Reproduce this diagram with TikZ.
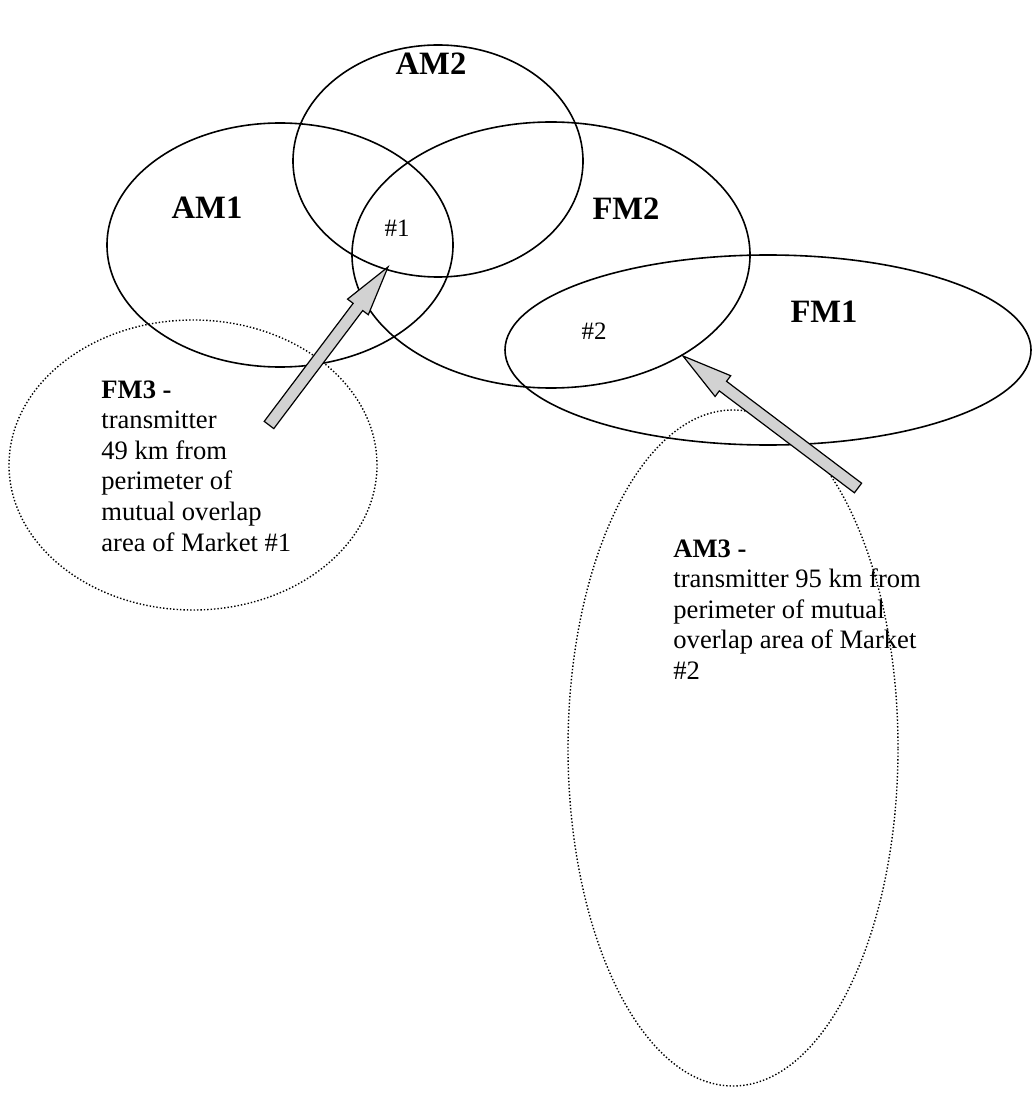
\documentclass[tikz,border=0pt]{standalone}
\usepackage{fontspec}
\setmainfont{Liberation Serif}
\usetikzlibrary{shapes.geometric,calc}

% fat block arrow from tail #1 to tip #2
\newcommand{\fatarrow}[2]{%
  \coordinate (hb) at ($(#2)!25pt!(#1)$);
  \filldraw[fatarrow] ($(#1)!3pt!90:(#2)$) -- ($(hb)!3pt!90:(#2)$) -- ($(hb)!6.5pt!90:(#2)$)
    -- (#2) -- ($(hb)!6.5pt!-90:(#2)$) -- ($(hb)!3pt!-90:(#2)$) -- ($(#1)!3pt!-90:(#2)$) -- cycle;}

\begin{document}
\begin{tikzpicture}[x=0.5pt,y=-0.5pt,
    zone/.style={draw, ellipse, line width=0.8pt, inner sep=0pt},
    reach/.style={draw, ellipse, densely dotted, line width=0.7pt, inner sep=0pt},
    tag/.style={font=\fontsize{16.3}{19}\selectfont\bfseries, inner sep=0pt},
    hash/.style={font=\fontsize{12.5}{15}\selectfont, inner sep=0pt},
    note/.style={font=\fontsize{13.3}{15.3}\selectfont, align=left, inner sep=0pt, anchor=north west},
    fatarrow/.style={fill=gray!35, draw=black, line width=0.6pt, line join=miter}]
  \useasboundingbox (0,0) rectangle (1032,1112);

  % coverage areas
  \node[zone, minimum width=173pt, minimum height=122pt] (am1) at (280,245) {};
  \node[zone, minimum width=145pt, minimum height=116pt] (am2) at (438,161) {};
  \node[zone, minimum width=199pt, minimum height=133pt] (fm2) at (551,255) {};
  \node[zone, minimum width=263pt, minimum height=95pt] (fm1) at (768,350) {};
  \node[reach, minimum width=184pt, minimum height=145pt] (fm3) at (193,465) {};
  \node[reach, minimum width=165pt, minimum height=338pt] (am3) at (733,748) {};

  \node[tag] (am2l) at (431,64) {AM2};
  \node[tag] (am1l) at (207,208) {AM1};
  \node[tag] (fm2l) at (626,209) {FM2};
  \node[tag] (fm1l) at (824,312) {FM1};
  \node[hash] (m1) at (397,228) {\#1};
  \node[hash] (m2) at (594,331) {\#2};

  \node[note] (fm3t) at (101,380) {\textbf{FM3 -}\\transmitter\\49 km from\\perimeter of\\mutual overlap\\area of Market \#1};
  \node[note] (am3t) at (673,539) {\textbf{AM3 -}\\transmitter 95 km from\\perimeter of mutual\\overlap area of Market\\\#2};

  % pointers to the overlap areas
  \coordinate (a1tail) at (269,425);
  \coordinate (a1tip) at (388,267);
  \coordinate (a2tail) at (858,488);
  \coordinate (a2tip) at (683,356);
  \fatarrow{a1tail}{a1tip}
  \fatarrow{a2tail}{a2tip}
\end{tikzpicture}
\end{document}
